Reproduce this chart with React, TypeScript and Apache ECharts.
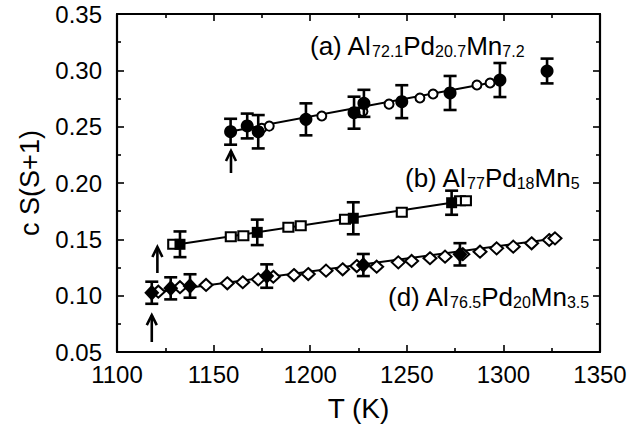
import React, { useEffect, useRef } from "react";
import * as echarts from "echarts";

// ---- axes ----
const xMin = 1100, xMax = 1350, xStep = 50;
const yMin = 0.05, yMax = 0.35, yStep = 0.05;

// ---- (a) Al72.1Pd20.7Mn7.2 ----
const aFilledT = [1158.8, 1167.4, 1173.1, 1197.8, 1222.7, 1227.8, 1247.4, 1272.4, 1298.2, 1322.6];
const aFilledY = [0.2455, 0.2506, 0.2455, 0.2565, 0.2624, 0.2707, 0.2722, 0.2799, 0.2914, 0.2994];
const aErr = [0.0115, 0.011, 0.0148, 0.0142, 0.0142, 0.012, 0.0146, 0.0151, 0.0151, 0.011];
const aOpenT = [1159, 1174.9, 1178.8, 1206, 1227.3, 1240.8, 1256.8, 1263.6, 1286.3, 1293.1];
const aOpenY = [0.2462, 0.2485, 0.2505, 0.2595, 0.2635, 0.2700, 0.2754, 0.2790, 0.2870, 0.2888];
const aFitT = [1158, 1299];
const aFitY = [0.2455, 0.2908];

// ---- (b) Al77Pd18Mn5 ----
const bFilledT = [1132.6, 1172.6, 1222.3, 1273.2];
const bFilledY = [0.1456, 0.1562, 0.1687, 0.1825];
const bErr = [0.0114, 0.0113, 0.0142, 0.0107];
const bOpenT = [1129.1, 1158.9, 1165.4, 1188.7, 1195.1, 1218, 1247.4, 1277.5, 1280.6];
const bOpenY = [0.1456, 0.1523, 0.1532, 0.1607, 0.1621, 0.1678, 0.1740, 0.1843, 0.1843];
const bFitT = [1131, 1274];
const bFitY = [0.1455, 0.1826];

// ---- (d) Al76.5Pd20Mn3.5 ----
const dFilledT = [1118, 1127.8, 1137.8, 1177.5, 1227.5, 1277.5];
const dFilledY = [0.1026, 0.1065, 0.1086, 0.1174, 0.1272, 0.1367];
const dErr = [0.0098, 0.0098, 0.0104, 0.0104, 0.0098, 0.0099];
const dOpenT = [1121.4, 1132.6, 1146.1, 1157.1, 1165.1, 1173.1, 1180.9, 1191.6, 1199, 1208.2, 1216.8, 1224.1, 1234.4, 1245.6, 1252.5, 1262, 1269.8, 1279, 1287.9, 1296.5, 1305.1, 1314.6, 1323.7, 1326.7];
const dOpenY = [0.1035, 0.1075, 0.1095, 0.1110, 0.1119, 0.1145, 0.1168, 0.1183, 0.1192, 0.1222, 0.1234, 0.1263, 0.1257, 0.1296, 0.1308, 0.1332, 0.1346, 0.1368, 0.1390, 0.1420, 0.1435, 0.1465, 0.1494, 0.1509];
const dFitT = [1118, 1327];
const dFitY = [0.1025, 0.1508];

// ---- arrows (onset markers) ----
const arrowT = [1159, 1120.9, 1118];
const arrowTipY = [0.2284, 0.1432, 0.0828];
const arrowBaseY = [0.2089, 0.1201, 0.0589];

const FONT = "Liberation Sans";

const zip2 = (a: number[], b: number[]) => a.map((v, i) => [v, b[i]]);
const zip3 = (a: number[], b: number[], c: number[]) => a.map((v, i) => [v, b[i], c[i]]);

const errRender = (params: any, api: any) => {
  const x = api.value(0), y = api.value(1), e = api.value(2);
  const top = api.coord([x, y + e]);
  const bot = api.coord([x, y - e]);
  const cap = 6.5;
  const st = { stroke: "#000", lineWidth: 2.6 };
  return {
    type: "group",
    children: [
      { type: "line", shape: { x1: top[0], y1: top[1], x2: bot[0], y2: bot[1] }, style: st },
      { type: "line", shape: { x1: top[0] - cap, y1: top[1], x2: top[0] + cap, y2: top[1] }, style: st },
      { type: "line", shape: { x1: bot[0] - cap, y1: bot[1], x2: bot[0] + cap, y2: bot[1] }, style: st },
    ],
  };
};

const arrowRender = (params: any, api: any) => {
  const x = api.value(0);
  const tip = api.coord([x, api.value(1)]);
  const base = api.coord([x, api.value(2)]);
  const st = { stroke: "#000", lineWidth: 2.6, fill: null };
  return {
    type: "group",
    children: [
      { type: "line", shape: { x1: tip[0], y1: tip[1], x2: base[0], y2: base[1] }, style: st },
      { type: "polyline", shape: { points: [[tip[0] - 5, tip[1] + 10], [tip[0], tip[1]], [tip[0] + 5, tip[1] + 10]] }, style: st },
    ],
  };
};

const fitLine = (t: number[], y: number[]) => ({
  type: "line",
  data: zip2(t, y),
  showSymbol: false,
  symbol: "none",
  lineStyle: { color: "#000", width: 2 },
  z: 1,
  silent: true,
});

const openScatter = (t: number[], y: number[], symbol: string, size: any) => ({
  type: "scatter",
  data: zip2(t, y),
  symbol,
  symbolSize: size,
  itemStyle: { color: "#fff", borderColor: "#000", borderWidth: 2, opacity: 1 },
  z: 2,
});

const filledScatter = (t: number[], y: number[], symbol: string, size: any) => ({
  type: "scatter",
  data: zip2(t, y),
  symbol,
  symbolSize: size,
  itemStyle: { color: "#000", opacity: 1 },
  z: 4,
});

const errSeries = (t: number[], y: number[], e: number[]) => ({
  type: "custom",
  data: zip3(t, y, e),
  encode: { x: 0, y: 1 },
  renderItem: errRender,
  z: 3,
});

const axisCommon = {
  axisLine: { show: true, onZero: false, lineStyle: { color: "#000", width: 2.2 } },
  axisTick: { show: true, inside: true, length: 7, lineStyle: { color: "#000", width: 1.6 } },
  minorTick: { show: true, splitNumber: 2, length: 4, lineStyle: { color: "#000", width: 1.6 } },
  splitLine: { show: false },
  minorSplitLine: { show: false },
};

const rich = {
  m: { fontSize: 26, fontFamily: FONT, color: "#000", lineHeight: 28, verticalAlign: "bottom" },
  s: { fontSize: 16, fontFamily: FONT, color: "#000", lineHeight: 16, verticalAlign: "bottom" },
};

export default function App() {
  const ref = useRef<HTMLDivElement>(null);
  useEffect(() => {
    if (!ref.current) return;
    const chart = echarts.init(ref.current, null, { renderer: "svg" });
    const option: any = {
      animation: false,
      backgroundColor: "#fff",
      grid: { left: 117, right: 33, top: 14, bottom: 89 },
      xAxis: [
        {
          type: "value", min: xMin, max: xMax, interval: xStep, position: "bottom",
          ...axisCommon,
          axisLabel: { color: "#000", fontSize: 24, fontFamily: FONT, margin: 10, formatter: (v: number) => String(v) },
          name: "T (K)", nameLocation: "middle", nameGap: 42,
          nameTextStyle: { color: "#000", fontSize: 28, fontFamily: FONT },
        },
        {
          type: "value", min: xMin, max: xMax, interval: xStep, position: "top",
          ...axisCommon, axisLabel: { show: false },
        },
      ],
      yAxis: [
        {
          type: "value", min: yMin, max: yMax, interval: yStep, position: "left",
          ...axisCommon,
          axisLabel: { color: "#000", fontSize: 24, fontFamily: FONT, margin: 15, formatter: (v: number) => v.toFixed(2) },
          name: "c S(S+1)", nameLocation: "middle", nameGap: 74,
          nameTextStyle: { color: "#000", fontSize: 27, fontFamily: FONT },
        },
        {
          type: "value", min: yMin, max: yMax, interval: yStep, position: "right",
          ...axisCommon, axisLabel: { show: false },
        },
      ],
      series: [
        fitLine(aFitT, aFitY),
        fitLine(bFitT, bFitY),
        fitLine(dFitT, dFitY),
        openScatter(aOpenT, aOpenY, "circle", 9),
        openScatter(bOpenT, bOpenY, "rect", [10, 9]),
        openScatter(dOpenT, dOpenY, "diamond", [13, 12]),
        errSeries(aFilledT, aFilledY, aErr),
        errSeries(bFilledT, bFilledY, bErr),
        errSeries(dFilledT, dFilledY, dErr),
        filledScatter(aFilledT, aFilledY, "circle", 13),
        filledScatter(bFilledT, bFilledY, "rect", 11),
        filledScatter(dFilledT, dFilledY, "diamond", [15, 16]),
        {
          type: "custom",
          data: zip3(arrowT, arrowTipY, arrowBaseY),
          encode: { x: 0, y: 1 },
          renderItem: arrowRender,
          z: 5,
        },
      ],
      graphic: [
        { type: "text", left: 310, top: 33, style: { text: "{m|(a) Al}{s|72.1}{m|Pd}{s|20.7}{m|Mn}{s|7.2}", rich } },
        { type: "text", left: 405, top: 165, style: { text: "{m|(b) Al}{s|77}{m|Pd}{s|18}{m|Mn}{s|5}", rich } },
        { type: "text", left: 388, top: 284, style: { text: "{m|(d) Al}{s|76.5}{m|Pd}{s|20}{m|Mn}{s|3.5}", rich } },
      ],
    };
    chart.setOption(option);
    return () => chart.dispose();
  }, []);
  return <div ref={ref} style={{ position: "fixed", left: 0, top: 0, width: 633, height: 441 }} />;
}
